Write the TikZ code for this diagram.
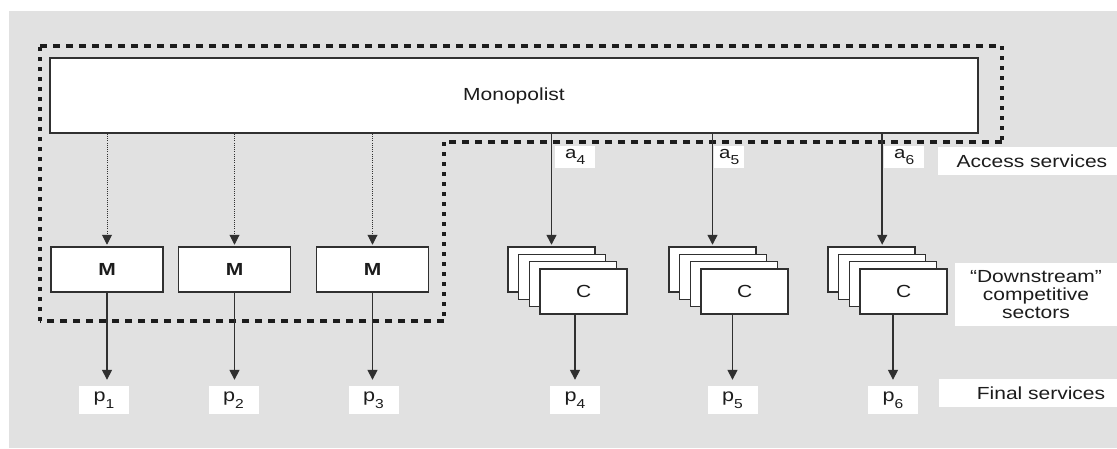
\documentclass[tikz,border=0pt]{standalone}
\usepackage{fontspec}
\setmainfont{Liberation Sans}[FakeStretch=1.2]
\usetikzlibrary{arrows.meta}
\definecolor{bg}{HTML}{E1E1E1}
\definecolor{ink}{HTML}{1C1C1C}
\definecolor{edge}{HTML}{303030}
% lowered small index, as in p1 or a4
\newcommand{\lowidx}[1]{\raisebox{-0.7ex}{\fontsize{13}{13}\selectfont #1}}

\begin{document}
\begin{tikzpicture}[x=1pt,y=-1pt,
  txt/.style={font=\fontsize{17.5}{18}\selectfont, text=ink},
  box/.style={draw=edge, line width=1.5pt, fill=white, inner sep=0pt, txt},
  mbox/.style={box, minimum width=112pt, minimum height=45pt,
               font=\fontsize{17.5}{18}\selectfont\bfseries},
  card/.style={box, minimum width=87pt, minimum height=45pt},
  tag/.style={fill=white, inner sep=0pt, txt},
  ptag/.style={tag, minimum width=50pt, minimum height=28pt,
               font=\fontsize{18}{18}\selectfont},
  atag/.style={tag, anchor=north west, minimum height=22pt,
               font=\fontsize{17}{18}\selectfont},
  arr/.style={draw=edge, line width=1.5pt, -{Triangle[width=10pt,length=10pt]}},
  dotarr/.style={arr, line width=1pt, dash pattern=on 1pt off 1.2pt},
  hborder/.style={line width=3.6pt, draw=ink, dash pattern=on 7pt off 6pt},
  vborder/.style={line width=3.6pt, draw=ink, dash pattern=on 4pt off 6pt},
]
\useasboundingbox (0,0) rectangle (1117,448);
\fill[bg] (9,11) rectangle (1117,448);

% boundary of the monopolist's own activities
\draw[hborder] (40,46) -- (1002,46);
\draw[vborder] (1002,46) -- (1002,142);
\draw[hborder] (1002,142) -- (444,142);
\draw[vborder] (444,142) -- (444,321);
\draw[hborder] (444,321) -- (40,321);
\draw[vborder] (40,321) -- (40,46);

% monopolist and its own downstream units
\node[box, minimum width=928pt, minimum height=75pt] (mono) at (514,95.5) {Monopolist};
\node[mbox] (m1) at (107,269.5) {M};
\node[mbox] (m2) at (234.5,269.5) {M};
\node[mbox] (m3) at (372.5,269.5) {M};

% stacks of competing firms
\foreach \s/\bx in {1/508,2/669,3/828}
  \foreach \j in {0,...,3}
    \node[card] (s\s-\j) at ({\bx+43.5+\j*10.7},{269.5+\j*7.33}) {\ifnum\j=3 C\fi};

% final service prices
\node[ptag] (p1) at (104,400) {p\lowidx{1}};
\node[ptag] (p2) at (233.5,400) {p\lowidx{2}};
\node[ptag] (p3) at (373.5,400) {p\lowidx{3}};
\node[ptag] (p4) at (575,400) {p\lowidx{4}};
\node[ptag] (p5) at (732.5,400) {p\lowidx{5}};
\node[ptag] (p6) at (893,400) {p\lowidx{6}};

% access charges
\node[atag, minimum width=40pt] (a4) at (555,146) {a\lowidx{4}};
\node[atag, minimum width=30pt] (a5) at (714,146) {a\lowidx{5}};
\node[atag, minimum width=40pt] (a6) at (884,146) {a\lowidx{6}};

% row captions
\node[tag, anchor=north west, minimum height=28pt, text width=159pt,
      inner xsep=10pt, align=right] (acc) at (938,147) {Access services};
\node[tag, minimum width=162pt, minimum height=63pt, align=center]
      (down) at (1036,294.5) {“Downstream”\\competitive\\sectors};
\node[tag, anchor=north west, minimum height=28pt, text width=154pt,
      inner xsep=12pt, align=right] (fin) at (939,379) {Final services};

% internal supply to own units
\draw[dotarr, shorten >=1.5pt] (m1.north |- mono.south) -- (m1.north);
\draw[dotarr, shorten >=1.5pt] (m2.north |- mono.south) -- (m2.north);
\draw[dotarr, shorten >=1.5pt] (m3.north |- mono.south) -- (m3.north);

% access supplied to competitors
\draw[arr, shorten >=1.5pt] (s1-0.north |- mono.south) -- (s1-0.north);
\draw[arr, shorten >=1.5pt] (s2-0.north |- mono.south) -- (s2-0.north);
\draw[arr, shorten >=1.5pt] (s3-1.north |- mono.south) -- (s3-1.north |- s3-0.north);

% final services
\draw[arr, shorten >=6pt] (m1.south) -- (m1.south |- p1.north);
\draw[arr, shorten >=6pt] (m2.south) -- (m2.south |- p2.north);
\draw[arr, shorten >=6pt] (m3.south) -- (m3.south |- p3.north);
\draw[arr, shorten >=6pt] (s1-3.south -| p4.north) -- (p4.north);
\draw[arr, shorten >=6pt] (s2-3.south -| p5.north) -- (p5.north);
\draw[arr, shorten >=6pt] (s3-3.south -| p6.north) -- (p6.north);
\end{tikzpicture}
\end{document}
